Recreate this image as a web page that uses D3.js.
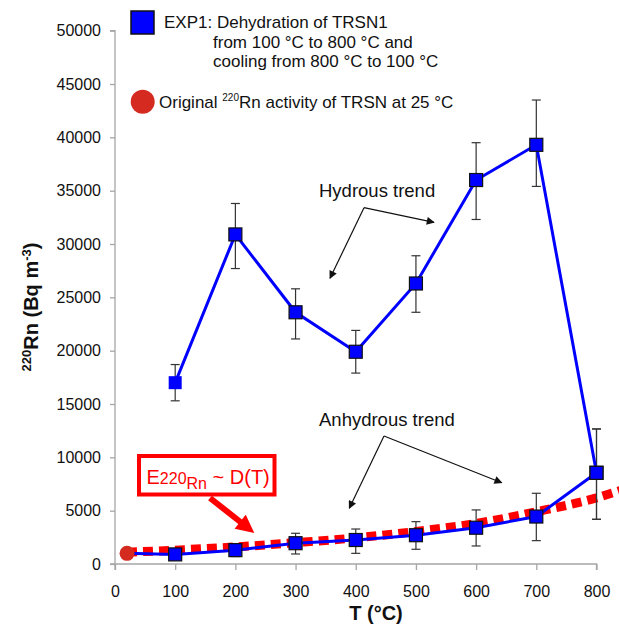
<!DOCTYPE html>
<html>
<head>
<meta charset="utf-8">
<script src="https://cdn.jsdelivr.net/npm/d3@7"></script>
<style>
  html, body { margin: 0; padding: 0; background: #fff; }
  svg { display: block; font-family: "Liberation Sans", Arial, sans-serif; }
</style>
</head>
<body>
<svg id="chart" width="619" height="625"></svg>
<script>
// ---- data ----
const xTicks = [0, 100, 200, 300, 400, 500, 600, 700, 800];
const yTicks = [0, 5000, 10000, 15000, 20000, 25000, 30000, 35000, 40000, 45000, 50000];

const hydrousT = [100, 200, 300, 400, 500, 600, 700, 800];
const hydrous = [17000, 30900, 23600, 19900, 26300, 36000, 39300, 8550];
const hydrousLo = [15300, 27700, 21100, 17900, 23600, 32300, 35400, 4190];
const hydrousHi = [18700, 33800, 25800, 21900, 28900, 39500, 43500, 12660];

const anhydrousT = [20, 100, 200, 300, 400, 500, 600, 700, 800];
const anhydrous = [1000, 900, 1300, 1950, 2250, 2700, 3400, 4450, 8550];
const anhydrousLo = [null, 820, 700, 940, 1000, 1380, 1690, 2190, 4190];
const anhydrousHi = [null, 1000, 1850, 2880, 3280, 3970, 5070, 6630, 12660];

const originalT = [20];
const original = [1000];

const fitT = [20, 100, 200, 300, 400, 500, 600, 700, 800, 840];
const fit = [1100, 1300, 1600, 2000, 2450, 3050, 3800, 4900, 6200, 6900];

// ---- layout ----
const svg = d3.select("#chart");
const margin = {left: 115, top: 30.7, right: 22.5, bottom: 61};
const W = 619, H = 625;
const x = d3.scaleLinear().domain([0, 800]).range([margin.left, W - margin.right]);
const y = d3.scaleLinear().domain([0, 50000]).range([H - margin.bottom, margin.top]);

const axisColor = "#a6a6a6";

// axes
const gx = svg.append("g").attr("transform", `translate(0,${y(0)})`)
  .call(d3.axisBottom(x).tickValues(xTicks).tickSize(6).tickPadding(16).tickFormat(d3.format("d")));
const gy = svg.append("g").attr("transform", `translate(${x(0)},0)`)
  .call(d3.axisLeft(y).tickValues(yTicks).tickSize(5).tickPadding(9).tickFormat(d3.format("d")));
[gx, gy].forEach(g => {
  g.select(".domain").attr("stroke", axisColor).attr("stroke-width", 1.3);
  g.selectAll(".tick line").attr("stroke", axisColor).attr("stroke-width", 1.3);
  g.selectAll(".tick text").attr("fill", "#111").attr("font-size", 16)
    .attr("font-family", "Liberation Sans, Arial, sans-serif");
});
gx.select(".domain").attr("d", `M${x(0)},6V0H${x(800)}V6`);
gy.select(".domain").attr("d", `M-5,${y(50000)}H0V${y(0)}H-5`);

// axis titles
svg.append("text").attr("x", 376).attr("y", 620).attr("text-anchor", "middle")
  .attr("font-size", 20).attr("font-weight", "bold").attr("fill", "#111").text("T (°C)");
const yl = svg.append("text").attr("transform", "translate(38,307) rotate(-90)")
  .attr("text-anchor", "middle").attr("font-size", 20).attr("font-weight", "bold").attr("fill", "#111");
yl.append("tspan").attr("font-size", 13).attr("dy", -7).text("220");
yl.append("tspan").attr("dy", 7).text("Rn (Bq m");
yl.append("tspan").attr("font-size", 13).attr("dy", -7).text("-3");
yl.append("tspan").attr("dy", 7).text(")");

// fitted red dashed curve
const fitLine = d3.line().x((d, i) => x(fitT[i])).y(d => y(d)).curve(d3.curveMonotoneX);
svg.append("path").attr("d", fitLine(fit)).attr("fill", "none")
  .attr("stroke", "#ff0000").attr("stroke-width", 9).attr("stroke-dasharray", "10,6");

// error bars
function errBars(ts, lo, hi) {
  const g = svg.append("g").attr("stroke", "#333").attr("stroke-width", 1.2);
  ts.forEach((t, i) => {
    if (lo[i] == null) return;
    const cx = x(t);
    g.append("line").attr("x1", cx).attr("x2", cx).attr("y1", y(lo[i])).attr("y2", y(hi[i]));
    g.append("line").attr("x1", cx - 4.5).attr("x2", cx + 4.5).attr("y1", y(lo[i])).attr("y2", y(lo[i]));
    g.append("line").attr("x1", cx - 4.5).attr("x2", cx + 4.5).attr("y1", y(hi[i])).attr("y2", y(hi[i]));
  });
}
errBars(hydrousT, hydrousLo, hydrousHi);
errBars(anhydrousT, anhydrousLo, anhydrousHi);

// lines
const blue = "#0000ff";
const hLine = d3.line().x((d, i) => x(hydrousT[i])).y(d => y(d));
svg.append("path").attr("d", hLine(hydrous)).attr("fill", "none").attr("stroke", blue).attr("stroke-width", 3);
const aLine = d3.line().x((d, i) => x(anhydrousT[i])).y(d => y(d));
svg.append("path").attr("d", aLine(anhydrous)).attr("fill", "none").attr("stroke", blue).attr("stroke-width", 3);

// original point
svg.selectAll("circle.orig").data(original).enter().append("circle")
  .attr("cx", (d, i) => x(originalT[i])).attr("cy", d => y(d)).attr("r", 7.5).attr("fill", "#d42a20");

// squares
const sq = 13;
svg.selectAll("rect.h").data(hydrous).enter().append("rect")
  .attr("x", (d, i) => x(hydrousT[i]) - sq / 2).attr("y", d => y(d) - sq / 2)
  .attr("width", sq).attr("height", sq).attr("fill", blue)
  .attr("stroke", (d, i) => i === 0 ? "none" : "#111").attr("stroke-width", 1.2);
svg.selectAll("rect.a").data(anhydrous.slice(1)).enter().append("rect")
  .attr("x", (d, i) => x(anhydrousT[i + 1]) - sq / 2).attr("y", d => y(d) - sq / 2)
  .attr("width", sq).attr("height", sq).attr("fill", blue)
  .attr("stroke", "#111").attr("stroke-width", 1.2);

// legend
svg.append("rect").attr("x", 131).attr("y", 11).attr("width", 23).attr("height", 23)
  .attr("fill", blue).attr("stroke", "#111").attr("stroke-width", 1.5);
const legFont = 17;
svg.append("text").attr("x", 164).attr("y", 28).attr("font-size", legFont).attr("fill", "#111").text("EXP1: Dehydration of TRSN1");
svg.append("text").attr("x", 213).attr("y", 47.5).attr("font-size", legFont).attr("fill", "#111").text("from 100 °C to 800 °C and");
svg.append("text").attr("x", 213).attr("y", 67).attr("font-size", legFont).attr("fill", "#111").text("cooling from 800 °C to 100 °C");
svg.append("circle").attr("cx", 142.7).attr("cy", 101.7).attr("r", 12).attr("fill", "#d42a20");
const ot = svg.append("text").attr("x", 159).attr("y", 108).attr("font-size", legFont).attr("fill", "#111");
ot.append("tspan").text("Original ");
ot.append("tspan").attr("font-size", 10).attr("dy", -7).text("220");
ot.append("tspan").attr("dy", 7).text("Rn activity of TRSN at 25 °C");

// annotation arrows
const defs = svg.append("defs");
defs.append("marker").attr("id", "ah").attr("viewBox", "0 0 10 10").attr("refX", 9).attr("refY", 5)
  .attr("markerWidth", 10).attr("markerHeight", 8).attr("markerUnits", "userSpaceOnUse").attr("orient", "auto")
  .append("path").attr("d", "M0,0L10,5L0,10Z").attr("fill", "#111");

function trend(label, tx, ty, vx, vy, l, r) {
  svg.append("text").attr("x", tx).attr("y", ty).attr("font-size", 18.5).attr("fill", "#111").text(label);
  svg.append("line").attr("x1", vx).attr("y1", vy).attr("x2", l[0]).attr("y2", l[1])
    .attr("stroke", "#111").attr("stroke-width", 1.2).attr("marker-end", "url(#ah)");
  svg.append("line").attr("x1", vx).attr("y1", vy).attr("x2", r[0]).attr("y2", r[1])
    .attr("stroke", "#111").attr("stroke-width", 1.2).attr("marker-end", "url(#ah)");
}
trend("Hydrous trend", 319, 197, 364, 207.7, [330, 278.3], [434, 222.3]);
trend("Anhydrous trend", 319, 426, 384, 436, [349.3, 508.3], [501.7, 482.7]);

// red equation box
svg.append("rect").attr("x", 139).attr("y", 456).attr("width", 135.5).attr("height", 38.5)
  .attr("fill", "#fff").attr("stroke", "#ff0000").attr("stroke-width", 4);
const eq = svg.append("text").attr("x", 146.5).attr("y", 484).attr("fill", "#ff0000").attr("font-size", 20);
eq.append("tspan").text("E");
eq.append("tspan").attr("font-size", 16).text("220");
eq.append("tspan").attr("font-size", 16).attr("dy", 5).text("Rn");
eq.append("tspan").attr("dy", -5).text(" ~ D(T)");
defs.append("marker").attr("id", "rh").attr("viewBox", "0 0 10 10").attr("refX", 2).attr("refY", 5)
  .attr("markerWidth", 20).attr("markerHeight", 18).attr("markerUnits", "userSpaceOnUse").attr("orient", "auto")
  .append("path").attr("d", "M0,0L10,5L0,10Z").attr("fill", "#ff0000");
svg.append("line").attr("x1", 210).attr("y1", 498).attr("x2", 243).attr("y2", 524)
  .attr("stroke", "#ff0000").attr("stroke-width", 6).attr("marker-end", "url(#rh)");
</script>
</body>
</html>
